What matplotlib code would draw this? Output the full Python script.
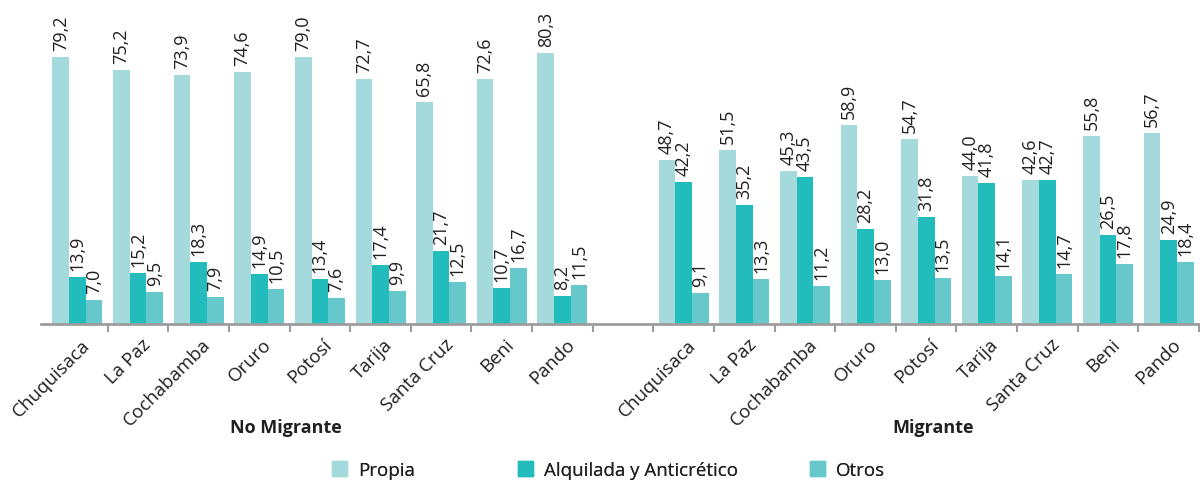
import matplotlib
matplotlib.use("Agg")
import matplotlib.pyplot as plt
import matplotlib.transforms as mtransforms
from matplotlib.patches import Patch
import numpy as np

plt.rcParams['font.family'] = ['Open Sans', 'DejaVu Sans']

# ---------------- data ----------------
depts = ['Chuquisaca', 'La Paz', 'Cochabamba', 'Oruro', 'Potosí',
         'Tarija', 'Santa Cruz', 'Beni', 'Pando']
groups = ['No Migrante', 'Migrante']
series = ['Propia', 'Alquilada y Anticrético', 'Otros']

no_mig_propia = [79.2, 75.2, 73.9, 74.6, 79.0, 72.7, 65.8, 72.6, 80.3]
no_mig_alq = [13.9, 15.2, 18.3, 14.9, 13.4, 17.4, 21.7, 10.7, 8.2]
no_mig_otros = [7.0, 9.5, 7.9, 10.5, 7.6, 9.9, 12.5, 16.7, 11.5]

mig_propia = [48.7, 51.5, 45.3, 58.9, 54.7, 44.0, 42.6, 55.8, 56.7]
mig_alq = [42.2, 35.2, 43.5, 28.2, 31.8, 41.8, 42.7, 26.5, 24.9]
mig_otros = [9.1, 13.3, 11.2, 13.0, 13.5, 14.1, 14.7, 17.8, 18.4]

colors = ['#a4dadb', '#21bcbb', '#66c8ca']
txt = '#231f20'

# ---------------- layout ----------------
fig = plt.figure(figsize=(12, 4.81), dpi=100)
ax = fig.add_axes([41/1200, 1 - 325/481, 1158/1200, 325/481])

n = len(depts)
x_left = np.arange(n)
x_right = np.arange(n) + n + 1     # one empty slot between groups
x_all = np.concatenate([x_left, x_right])

vals = [no_mig_propia + mig_propia,
        no_mig_alq + mig_alq,
        no_mig_otros + mig_otros]

w = 0.275
for k in range(3):
    xs = x_all + (k - 1) * w
    ax.bar(xs, vals[k], width=w, color=colors[k], linewidth=0)
    for xb, v in zip(xs, vals[k]):
        ax.annotate(f"{v:.1f}".replace('.', ','), (xb, v),
                    xytext=(0, 5), textcoords='offset points',
                    rotation=90, ha='center', va='bottom',
                    fontsize=13, color=txt)

ax.set_xlim(-0.6, 2 * n + 0.5)
ax.set_ylim(0, 96.3)

for s in ['top', 'right', 'left']:
    ax.spines[s].set_visible(False)
ax.spines['bottom'].set_color('#9d9d9d')
ax.spines['bottom'].set_linewidth(2)
ax.set_yticks([])

ax.set_xticks(x_all)
ax.set_xticklabels(depts + depts, rotation=45, ha='right',
                   rotation_mode='anchor', fontsize=13.5, color=txt)
ax.tick_params(axis='x', which='major', length=0, pad=8)
ax.set_xticks(np.arange(0.5, 2 * n + 1, 1), minor=True)
ax.tick_params(axis='x', which='minor', length=6, width=1.5,
               color='#9d9d9d')

# shift tick labels slightly to the right
offset = mtransforms.ScaledTranslation(3/100, 0, fig.dpi_scale_trans)
for lab in ax.get_xticklabels():
    lab.set_transform(lab.get_transform() + offset)

# group titles
ax.text(3.44, -103/3.375, groups[0], ha='center', va='center',
        fontsize=13, fontweight='bold', color=txt)
ax.text(14.12, -103/3.375, groups[1], ha='center', va='center',
        fontsize=13, fontweight='bold', color=txt)

# legend, one entry each to keep the original spacing
leg_x = [332, 518, 810]
for k in range(3):
    lg = fig.legend(handles=[Patch(color=colors[k], label=series[k])],
                    loc='center left',
                    bbox_to_anchor=(leg_x[k]/1200, 1 - 471/481),
                    frameon=False, fontsize=13.5, handlelength=0.8,
                    handleheight=0.8, handletextpad=0.6,
                    borderpad=0, borderaxespad=0)
    for t in lg.get_texts():
        t.set_color(txt)
    fig.add_artist(lg)

fig.savefig('out.png', dpi=100)
